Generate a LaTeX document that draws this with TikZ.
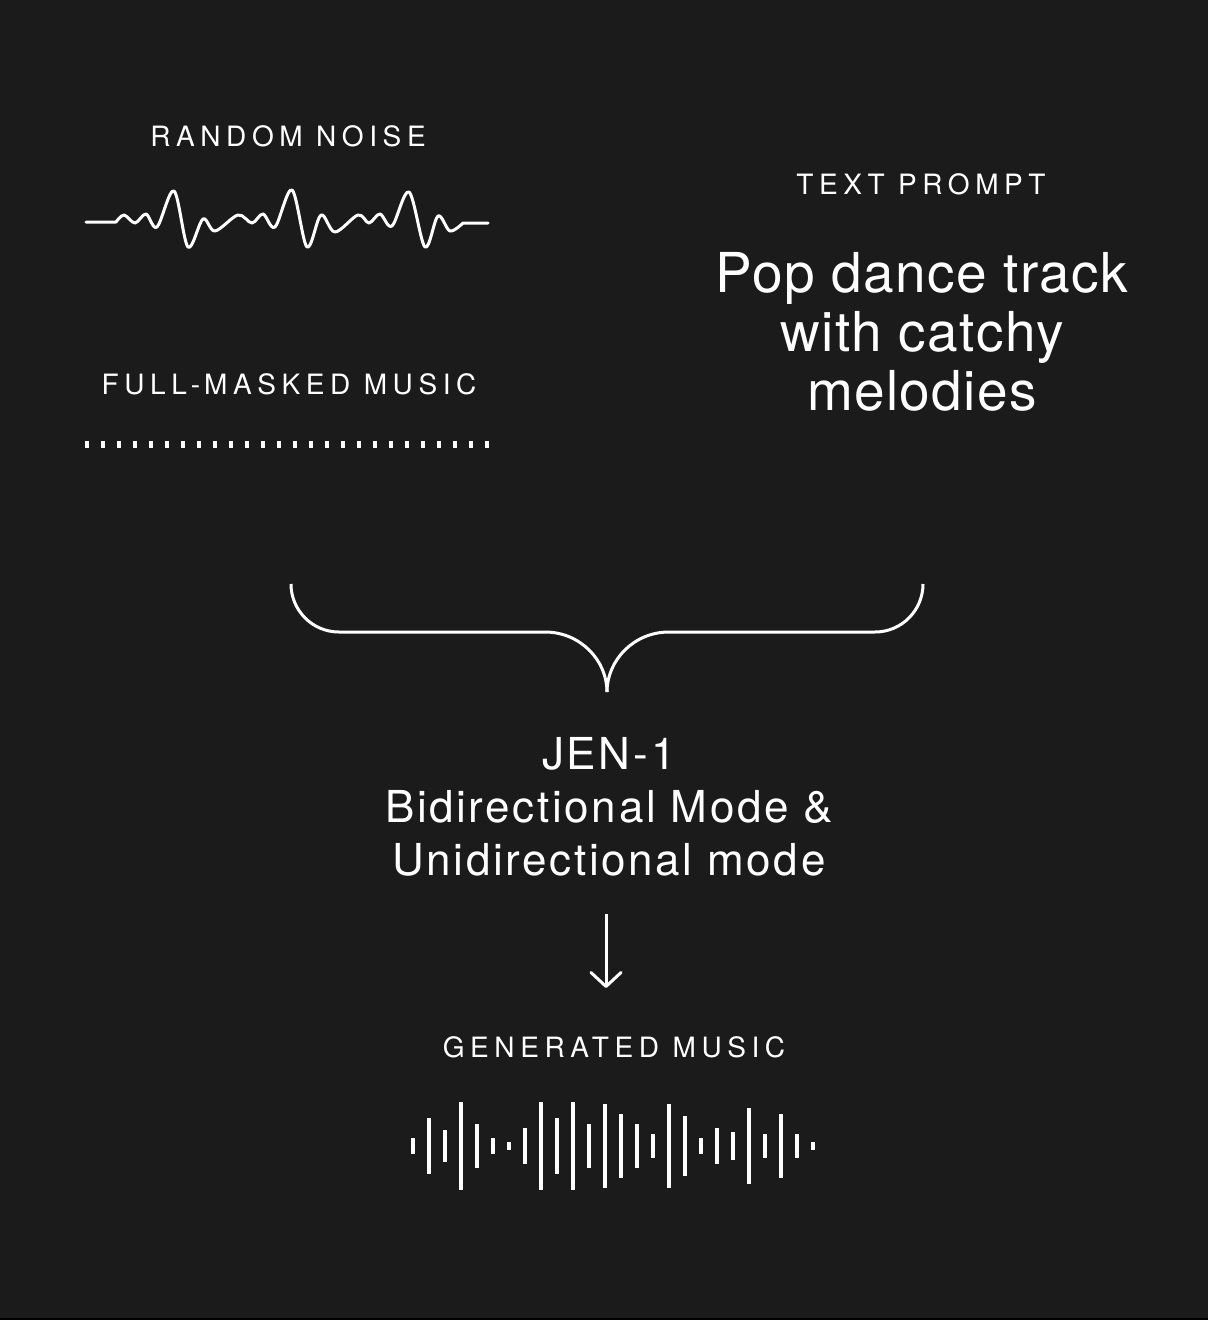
\documentclass[tikz,border=0pt]{standalone}
\usepackage{fontspec}
\setmainfont{TeX Gyre Heros}
\newfontfamily\spacedfont[LetterSpace=20]{TeX Gyre Heros}
\newfontfamily\bigfont[LetterSpace=2.5]{TeX Gyre Heros}
\newfontfamily\midfont[LetterSpace=6]{TeX Gyre Heros}
\usetikzlibrary{arrows.meta}
\definecolor{bgcol}{HTML}{1B1B1B}
\tikzset{
  label/.style={text=white, inner sep=0pt, anchor=base, font=\spacedfont\fontsize{28}{28}\selectfont},
  bigtext/.style={text=white, inner sep=0pt, anchor=base, font=\bigfont\fontsize{55}{59}\selectfont},
  midtext/.style={text=white, inner sep=0pt, anchor=base, font=\midfont\fontsize{44}{53}\selectfont},
  stroke/.style={draw=white, line width=3pt, line cap=round, line join=round},
}
\begin{document}
\begin{tikzpicture}[x=1pt, y=-1pt]
\useasboundingbox (0,0) rectangle (1208,1320);
\fill[bgcol] (0,0) rectangle (1208,1320);
\fill[black] (0,1318) rectangle (1208,1320);

% labels
\node[label] (noiselbl) at (288,146) {RANDOM NOISE};
\node[label] (masklbl) at (289,394) {FULL\kern4pt-\kern4pt MASKED MUSIC};
\node[label] (promptlbl) at (921,194) {TEXT PROMPT};
\node[label] (genlbl) at (614,1057) {GENERATED MUSIC};

% prompt
\node[bigtext] (p1) at (922,292) {Pop dance track};
\node[bigtext] (p2) at (922,351) {with catchy};
\node[bigtext] (p3) at (922,410) {melodies};

% model
\node[midtext] (j1) at (609,769) {JEN\kern3pt-\kern3pt1};
\node[midtext] (j2) at (609,822) {Bidirectional Mode \&};
\node[midtext] (j3) at (609,875) {Unidirectional mode};

% random noise waveform
\draw[stroke] (86,222) -- plot[smooth, tension=0.55] coordinates {(116,222) (124,215) (135,223) (146,214) (157,227) (174,191) (188,247) (203,219) (215,231) (238,215) (252,223) (263,214) (275,227) (292,190) (307,247) (321,215) (335,232) (358,215) (369,223) (380,214) (392,226) (409,192) (425,247) (438,216) (450,231) (463,223)} -- (488,223);

% full-masked dots
\foreach \i in {0,...,25} {
  \fill[white] ({87+16*\i-2},441) rectangle ({87+16*\i+2},447.5);
}

% brace
\coordinate (bl) at (291,584);
\coordinate (br) at (923,584);
\coordinate (btip) at (607,692);
\draw[draw=white, line width=3pt] (bl) .. controls (291,610) and (312,632) .. (339,632) -- (545,632) .. controls (580,632) and (607,660) .. (btip);
\draw[draw=white, line width=3pt] (br) .. controls (923,610) and (902,632) .. (875,632) -- (669,632) .. controls (634,632) and (607,660) .. (btip);

% arrow
\coordinate (atop) at (606,914);
\coordinate (abot) at (606,988);
\draw[draw=white, line width=3pt, -{Straight Barb[length=14pt, width=30pt, line join=round, line cap=round]}] (atop) -- (abot);

% generated music bars
\foreach \h [count=\i from 0] in {7.7,27.7,15.7,43.7,21.7,7.7,3.7,17.7,43.7,27.7,43.7,21.7,41.7,31.7,21.7,11.7,41.7,29.7,7.7,17.7,13.7,37.7,11.7,31.7,11.7,3.7} {
  \fill[white] ({413+16*\i-2},{1146-\h}) rectangle ({413+16*\i+2},{1146+\h});
}
\end{tikzpicture}
\end{document}
